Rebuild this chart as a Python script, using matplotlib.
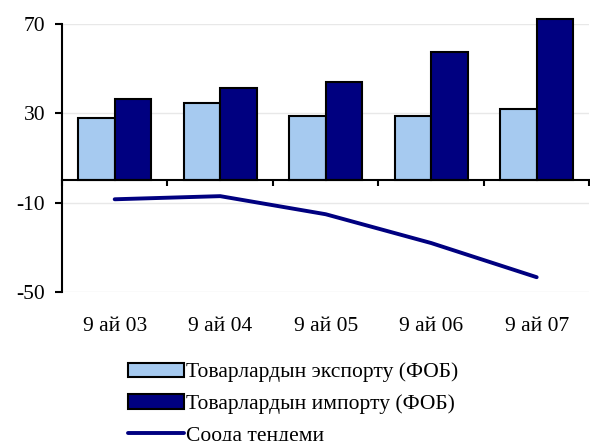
import matplotlib
matplotlib.use('Agg')
import matplotlib.pyplot as plt
import numpy as np

# Data
periods = ['9 ай 03', '9 ай 04', '9 ай 05', '9 ай 06', '9 ай 07']
exports = [28.1, 34.4, 28.6, 28.7, 32.0]
imports = [36.5, 41.5, 44.2, 57.4, 72.2]
balance = [-8.5, -7.1, -15.2, -28.1, -43.4]
labels = ['Товарлардын экспорту (ФОБ)', 'Товарлардын импорту (ФОБ)',
          'Соода тендеми']
yticks = [-50, -10, 30, 70]

plt.rcParams['font.family'] = ['Liberation Serif', 'DejaVu Serif']
plt.rcParams['axes.unicode_minus'] = False

fig = plt.figure(figsize=(5.9, 4.41), dpi=100)
ax = fig.add_axes([0.105, 0.338, 0.894, 0.6076])

x = np.arange(len(periods))
w = 0.346
b1 = ax.bar(x - w / 2, exports, w, color='#A6CAF0', edgecolor='black',
            linewidth=1.5, label=labels[0], zorder=2)
b2 = ax.bar(x + w / 2, imports, w, color='#000080', edgecolor='black',
            linewidth=1.5, label=labels[1], zorder=2, clip_on=False)
ln, = ax.plot(x, balance, color='#000080', linewidth=2.8,
              solid_capstyle='round', label=labels[2], zorder=3)

ax.set_xlim(-0.5, len(periods) - 0.5)
ax.set_ylim(-50, 70)
ax.set_yticks(yticks)
ax.yaxis.grid(True, color='#e8e8e8', linewidth=1.0, zorder=0)
ax.tick_params(axis='y', direction='out', length=5, width=1.5,
               labelsize=15.5, pad=7)

# x axis drawn at zero, ticks between categories
ax.spines['top'].set_visible(False)
ax.spines['right'].set_visible(False)
ax.spines['left'].set_linewidth(1.5)
ax.spines['bottom'].set_position(('data', 0))
ax.spines['bottom'].set_linewidth(1.5)
ax.spines['bottom'].set_zorder(4)
ax.set_xticks(np.arange(len(periods) + 1) - 0.5)
ax.tick_params(axis='x', direction='out', length=4, width=1.5,
               labelbottom=False)

# category labels below the plot area
sec = ax.secondary_xaxis('bottom')
sec.set_xticks(x)
sec.set_xticklabels(periods)
sec.tick_params(length=0, labelsize=15.5, pad=18)
sec.spines['bottom'].set_visible(False)

fig.legend(handles=[b1, b2, ln], labels=labels, loc='upper left',
           bbox_to_anchor=(0.217, 0.178), frameon=False, fontsize=15.5,
           handlelength=2.6, handleheight=0.65, handletextpad=0.1,
           labelspacing=0.56, borderpad=0, borderaxespad=0)

fig.savefig('out.png', dpi=100)
